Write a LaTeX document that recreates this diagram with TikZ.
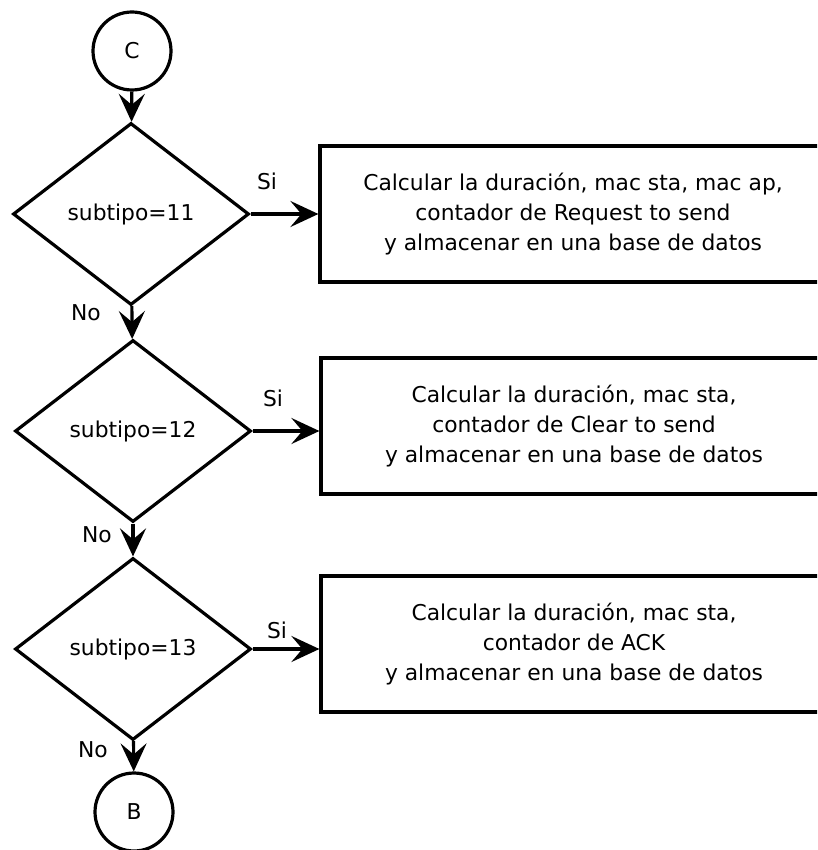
\documentclass[tikz,border=0pt]{standalone}
\usepackage{fontspec}
\setmainfont{DejaVu Sans}
\usetikzlibrary{shapes.geometric,arrows.meta}

\tikzset{
  base/.style={draw=black, line width=3.2pt, inner sep=0pt,
    font=\fontsize{21.8}{30}\selectfont},
  connector/.style={draw=black, line width=3.2pt,
    -{Stealth[length=28pt, width=26pt, inset=11pt]}},
  decision/.style={base, diamond, minimum width=236pt, minimum height=182pt},
  process/.style={base, rectangle, align=center,
    minimum width=506pt, minimum height=136pt},
  connectorbox/.style={base, circle, minimum size=78pt},
  branchlabel/.style={font=\fontsize{21.8}{25}\selectfont, inner sep=0pt}
}

\begin{document}
\begin{tikzpicture}[x=1pt, y=-1pt]
  \clip (0,0) rectangle (817,850);

  % off-page connector and the three subtype tests
  \node[connectorbox] (c) at (132,51) {C};
  \node[decision] (d1) at (131,214) {subtipo=11};
  \node[decision] (d2) at (133,431) {subtipo=12};
  \node[decision] (d3) at (133,649) {subtipo=13};
  \node[connectorbox] (b) at (134,812) {B};

  % actions for each subtype
  \node[process] (r1) at (573,214)
    {Calcular la duración, mac sta, mac ap,\\contador de Request to send\\y almacenar en una base de datos};
  \node[process] (r2) at (574,426)
    {Calcular la duración, mac sta,\\contador de Clear to send\\y almacenar en una base de datos};
  \node[process] (r3) at (574,644)
    {Calcular la duración, mac sta,\\contador de ACK\\y almacenar en una base de datos};

  % main flow
  \draw[connector] (c) -- (d1);
  \draw[connector] (d1) -- (d2);
  \draw[connector] (d2) -- (d3);
  \draw[connector] (d3) -- (b);

  % "yes" branches
  \draw[connector] (d1.east) -- (d1.east -| r1.west);
  \draw[connector] (d2.east) -- (d2.east -| r2.west);
  \draw[connector] (d3.east) -- (d3.east -| r3.west);

  % branch labels
  \node[branchlabel] (si1) at (267,181) {Si};
  \node[branchlabel] (si2) at (273,398) {Si};
  \node[branchlabel] (si3) at (277,630) {Si};
  \node[branchlabel] (no1) at (86,313) {No};
  \node[branchlabel] (no2) at (97,535) {No};
  \node[branchlabel] (no3) at (93,750) {No};
\end{tikzpicture}
\end{document}
